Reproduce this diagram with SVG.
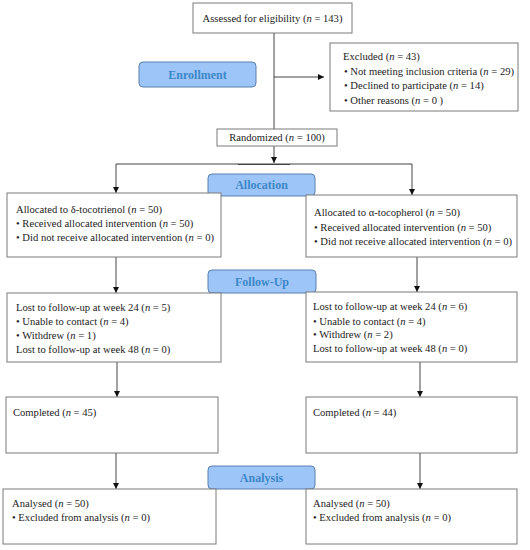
<svg xmlns="http://www.w3.org/2000/svg" width="530" height="550" viewBox="0 0 530 550">
<style>
.box{fill:#fff;stroke:#7a7a7a;stroke-width:1}
.lbl{fill:#9ec5f8;stroke:#5b7fae;stroke-width:1}
.lt{font-weight:bold;font-size:12px;fill:#3c88c8;text-anchor:middle}
.t{font-size:10.6px;fill:#222}
.c line{stroke:#444;stroke-width:1}
</style>
<defs>
<marker id="ah" viewBox="0 0 6 6" refX="6" refY="3" markerWidth="6" markerHeight="6" markerUnits="userSpaceOnUse" orient="auto">
<path d="M0,0 L6,3 L0,6 z" fill="#111"/>
</marker>
</defs>
<rect width="530" height="550" fill="#fff"/>
<g class="c" id="connectors">
<line x1="274" y1="33" x2="274" y2="129"/>
<line x1="274" y1="77" x2="324" y2="77" marker-end="url(#ah)"/>
<line x1="274" y1="146" x2="274" y2="163" marker-end="url(#ah)"/>
<line x1="116" y1="164" x2="412" y2="164"/>
<line x1="238" y1="164.5" x2="290" y2="164.5"/>
<line x1="116" y1="164" x2="116" y2="193" marker-end="url(#ah)"/>
<line x1="412" y1="164" x2="412" y2="195" marker-end="url(#ah)"/>
<line x1="116" y1="257" x2="116" y2="293" marker-end="url(#ah)"/>
<line x1="417" y1="257" x2="417" y2="292" marker-end="url(#ah)"/>
<line x1="117" y1="362" x2="117" y2="397" marker-end="url(#ah)"/>
<line x1="420" y1="362" x2="420" y2="397" marker-end="url(#ah)"/>
<line x1="116" y1="453" x2="116" y2="489" marker-end="url(#ah)"/>
<line x1="420" y1="453" x2="420" y2="489" marker-end="url(#ah)"/>
</g>
<g font-family="'Liberation Serif', 'Times New Roman', 'DejaVu Serif', serif">
<g id="assessed" class="t">
<rect class="box" x="193" y="3" width="159" height="30"/>
<text x="272.5" y="22" text-anchor="middle">Assessed for eligibility (<tspan font-style="italic">n</tspan> = 143)</text>
</g>
<g id="enrollment">
<rect class="lbl" x="139" y="62" width="117" height="25" rx="4"/>
<text class="lt" x="197.5" y="78.5">Enrollment</text>
</g>
<g id="excluded" class="t">
<rect class="box" x="330" y="43" width="188" height="68"/>
<text x="343" y="60">Excluded (<tspan font-style="italic">n</tspan> = 43)</text>
<text x="344" y="75">• Not meeting inclusion criteria (<tspan font-style="italic">n</tspan> = 29)</text>
<text x="344" y="89">•  Declined to participate (<tspan font-style="italic">n</tspan> = 14)</text>
<text x="344" y="104">•  Other reasons (<tspan font-style="italic">n</tspan> = 0 )</text>
</g>
<g id="randomized" class="t">
<rect class="box" x="217" y="129" width="120" height="17"/>
<text x="277" y="141" text-anchor="middle">Randomized (<tspan font-style="italic">n</tspan> = 100)</text>
</g>
<g id="allocation">
<rect class="lbl" x="208" y="174" width="107" height="22" rx="4"/>
<text class="lt" x="261.5" y="189">Allocation</text>
</g>
<g id="alloc-left" class="t">
<rect class="box" x="7" y="193" width="214" height="64"/>
<text x="16" y="213">Allocated to δ-tocotrienol (<tspan font-style="italic">n</tspan> = 50)</text>
<text x="16" y="227">• Received allocated intervention (<tspan font-style="italic">n</tspan> = 50)</text>
<text x="16" y="241">• Did not receive allocated intervention (<tspan font-style="italic">n</tspan> = 0)</text>
</g>
<g id="alloc-right" class="t">
<rect class="box" x="306" y="195" width="211" height="62"/>
<text x="314" y="216">Allocated to α-tocopherol (<tspan font-style="italic">n</tspan> = 50)</text>
<text x="314" y="231">• Received allocated intervention (<tspan font-style="italic">n</tspan> = 50)</text>
<text x="314" y="245">• Did not receive allocated intervention (<tspan font-style="italic">n</tspan> = 0)</text>
</g>
<g id="followup">
<rect class="lbl" x="208" y="270" width="108" height="23" rx="4"/>
<text class="lt" x="262" y="285.5">Follow-Up</text>
</g>
<g id="fu-left" class="t">
<rect class="box" x="7" y="293" width="214" height="69"/>
<text x="16" y="311">Lost to follow-up at week 24 (<tspan font-style="italic">n</tspan> = 5)</text>
<text x="16" y="325">• Unable to contact (<tspan font-style="italic">n</tspan> = 4)</text>
<text x="16" y="339">• Withdrew (<tspan font-style="italic">n</tspan> = 1)</text>
<text x="16" y="353">Lost to follow-up at week 48 (<tspan font-style="italic">n</tspan> = 0)</text>
</g>
<g id="fu-right" class="t">
<rect class="box" x="306" y="292" width="211" height="70"/>
<text x="313" y="310">Lost to follow-up at week 24 (<tspan font-style="italic">n</tspan> = 6)</text>
<text x="313" y="325">• Unable to contact (<tspan font-style="italic">n</tspan> = 4)</text>
<text x="313" y="338">• Withdrew (<tspan font-style="italic">n</tspan> = 2)</text>
<text x="313" y="352">Lost to follow-up at week 48 (<tspan font-style="italic">n</tspan> = 0)</text>
</g>
<g id="completed-left" class="t">
<rect class="box" x="6" y="397" width="212" height="56"/>
<text x="13" y="416">Completed (<tspan font-style="italic">n</tspan> = 45)</text>
</g>
<g id="completed-right" class="t">
<rect class="box" x="306" y="397" width="211" height="56"/>
<text x="313" y="416">Completed (<tspan font-style="italic">n</tspan> = 44)</text>
</g>
<g id="analysis">
<rect class="lbl" x="208" y="466" width="107" height="23" rx="4"/>
<text class="lt" x="261.5" y="481.5">Analysis</text>
</g>
<g id="analysed-left" class="t">
<rect class="box" x="3" y="489" width="213" height="55"/>
<text x="12" y="507">Analysed (<tspan font-style="italic">n</tspan> = 50)</text>
<text x="12" y="521">• Excluded from analysis (<tspan font-style="italic">n</tspan> = 0)</text>
</g>
<g id="analysed-right" class="t">
<rect class="box" x="306" y="489" width="211" height="55"/>
<text x="313" y="507">Analysed (<tspan font-style="italic">n</tspan> = 50)</text>
<text x="313" y="521">• Excluded from analysis (<tspan font-style="italic">n</tspan> = 0)</text>
</g>
</g>
</svg>
